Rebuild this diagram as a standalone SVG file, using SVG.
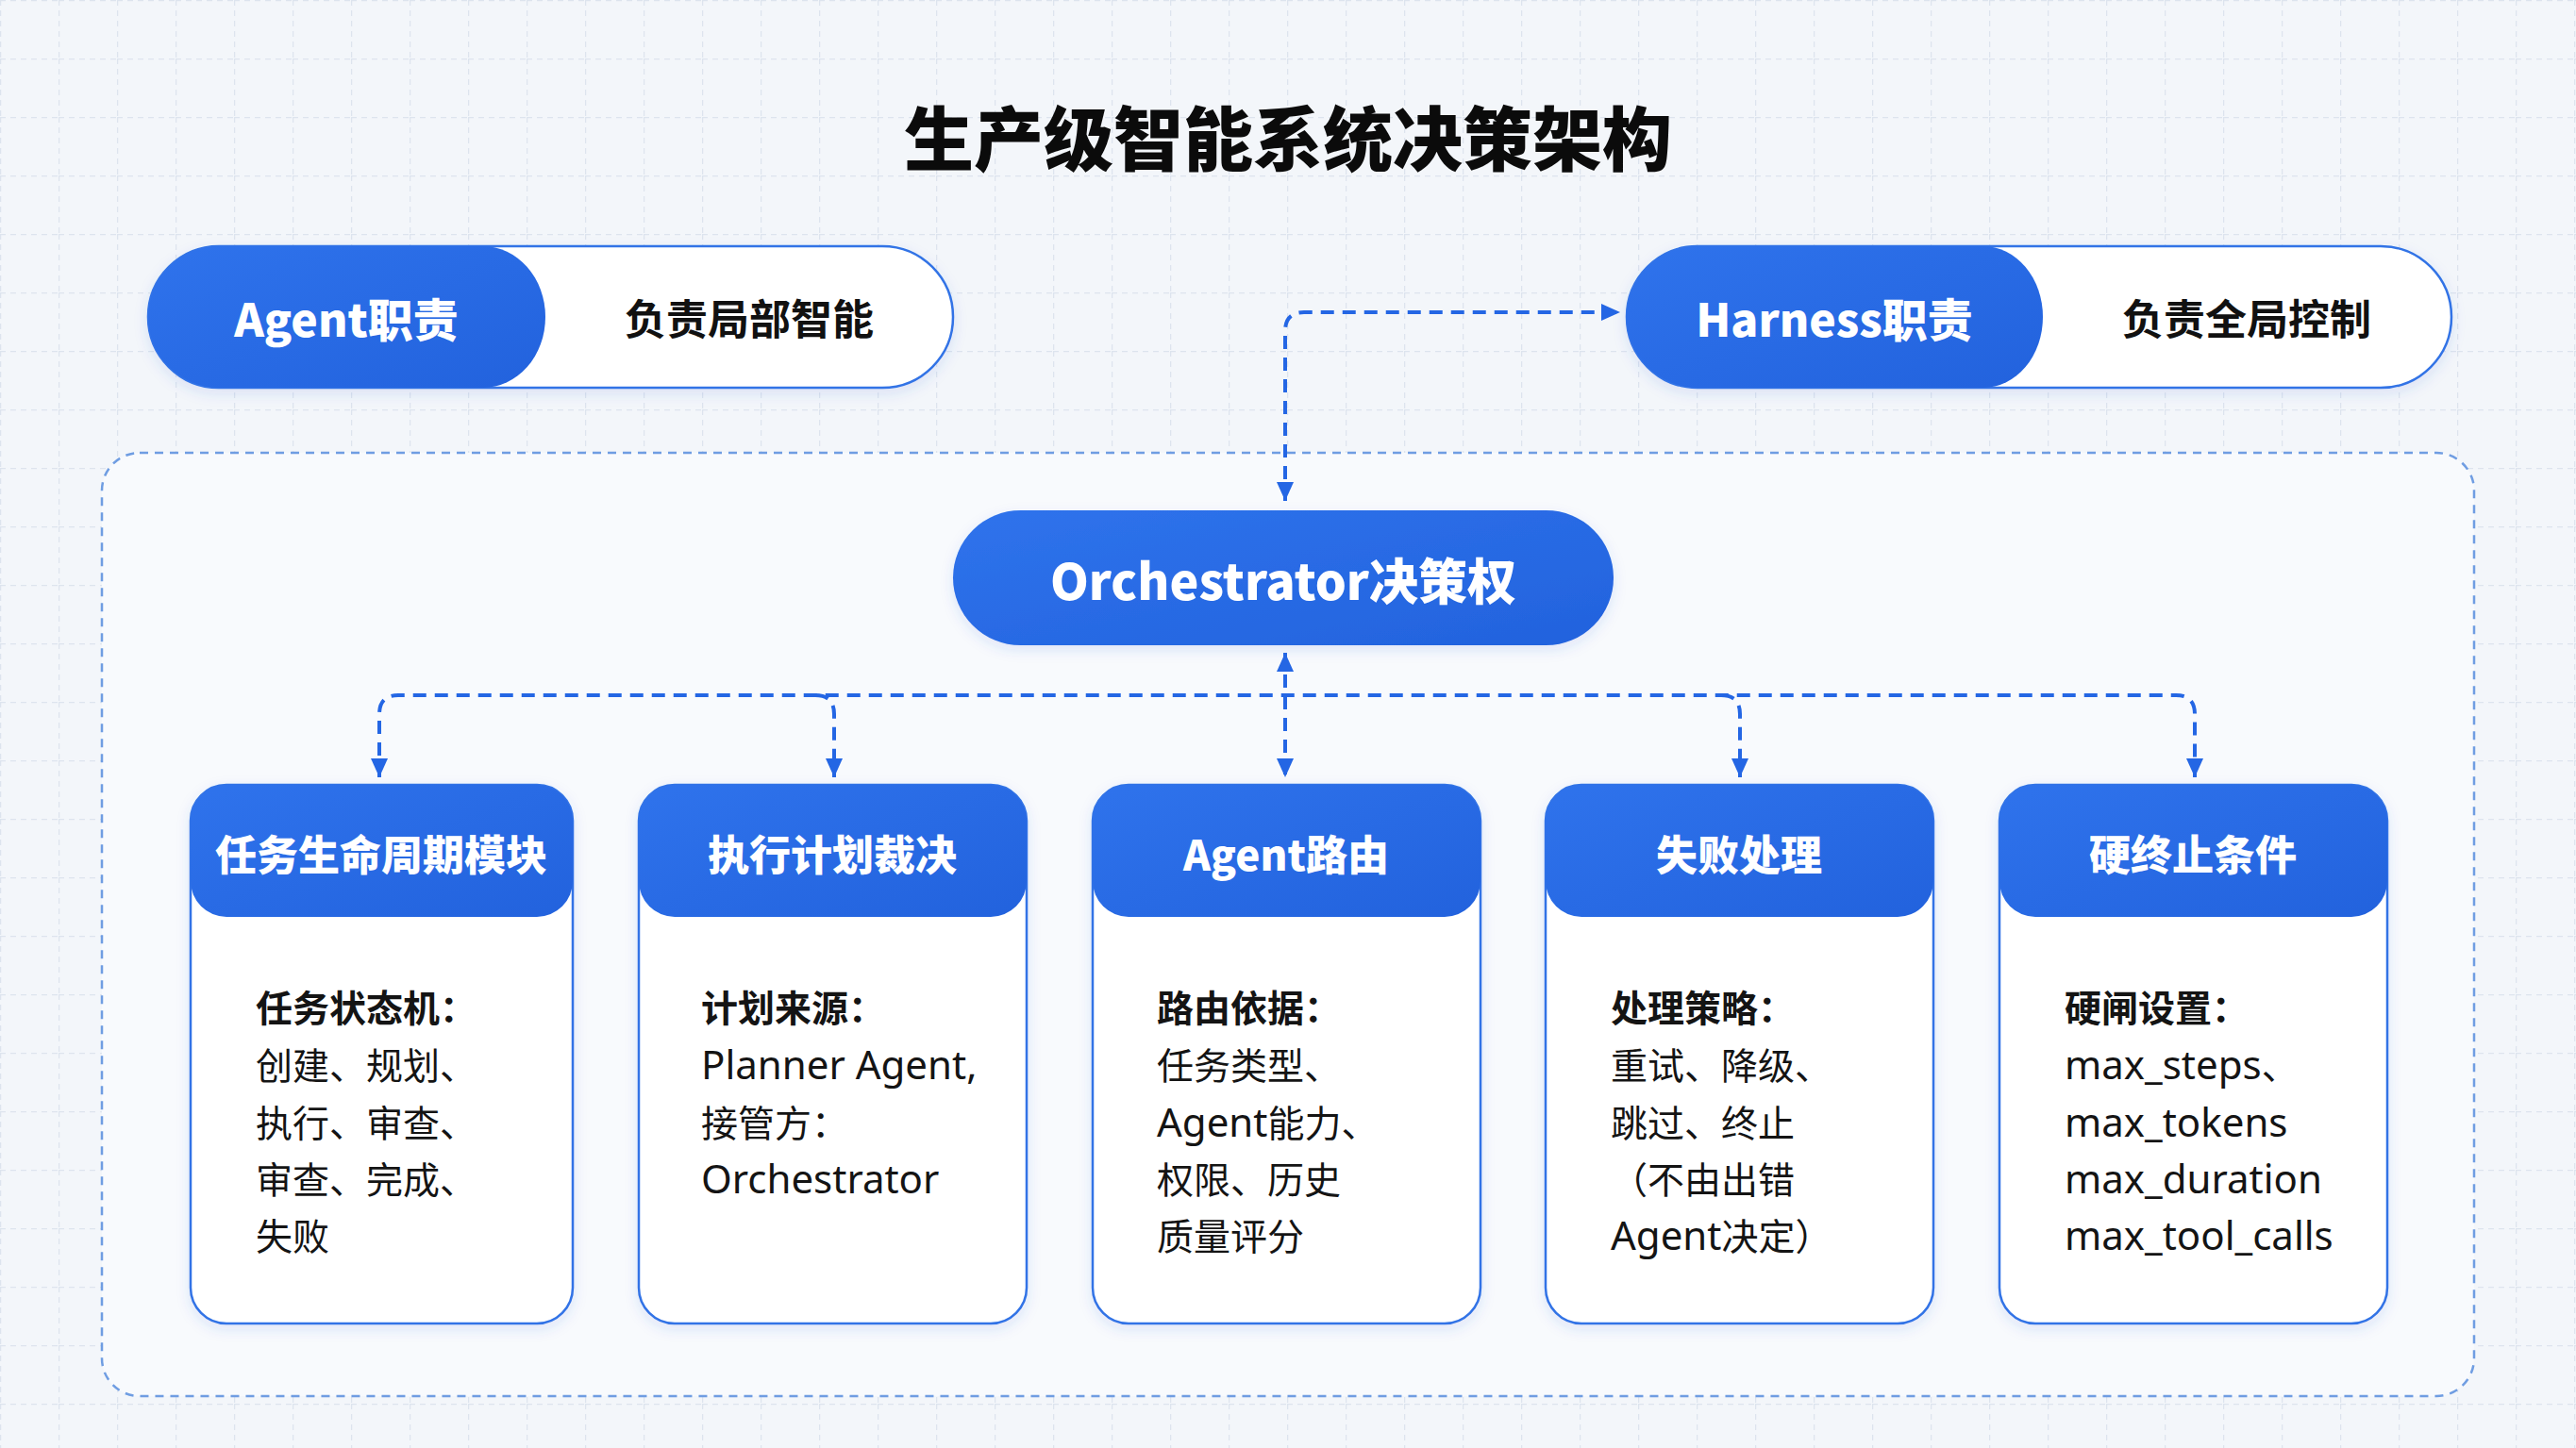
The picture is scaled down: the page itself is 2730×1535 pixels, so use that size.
<svg xmlns="http://www.w3.org/2000/svg" width="2730" height="1535" viewBox="0 0 2730 1535">
<defs>
<pattern id="grid" width="62" height="62" patternUnits="userSpaceOnUse">
<path d="M0 0.5H62M0.5 0V62" fill="none" stroke="#dde4ee" stroke-width="1.5" stroke-dasharray="6 5"/>
</pattern>
<linearGradient id="blue" x1="0" y1="0" x2="1" y2="1">
<stop offset="0" stop-color="#2f73ec"/>
<stop offset="1" stop-color="#2262dd"/>
</linearGradient>
<filter id="sh" x="-10%" y="-10%" width="120%" height="130%">
<feDropShadow dx="0" dy="5" stdDeviation="7" flood-color="#2a5bd7" flood-opacity="0.13"/>
</filter>
<marker id="ah" viewBox="0 0 10 10" refX="10" refY="5" markerWidth="20" markerHeight="20" markerUnits="userSpaceOnUse" orient="auto-start-reverse">
<path d="M0 0.5L10 5L0 9.5Z" fill="#2466e4"/>
</marker>
<style>
.cjk{font-family:'Noto Sans CJK SC','Noto Sans',sans-serif;}
.lat{font-family:'Noto Sans','Noto Sans CJK SC',sans-serif;font-size:42px;}
.title{font-size:74px;font-weight:900;fill:#0b0b0b;}
.pillT{font-size:48px;font-weight:900;fill:#ffffff;}
.pillD{font-size:44px;font-weight:700;fill:#111111;}
.hdr{font-size:44px;font-weight:900;fill:#ffffff;}
.body{font-size:39px;fill:#141414;}
.bold{font-weight:700;}
.conn{fill:none;stroke:#2466e4;stroke-width:4;stroke-dasharray:14 9;}
.card{fill:#ffffff;stroke:#3173e6;stroke-width:2.5;}
.pill{fill:#ffffff;stroke:#3173e6;stroke-width:2.5;}
</style>
</defs>
<rect width="2730" height="1535" fill="#f3f6fa"/>
<rect width="2730" height="1535" fill="url(#grid)"/>
<rect x="108" y="480" width="2514" height="1000" rx="40" fill="#f8fafd" stroke="#6f9de2" stroke-width="2.5" stroke-dasharray="9 7"/>

<text class="cjk title" x="1365" y="175" text-anchor="middle">生产级智能系统决策架构</text>

<g id="agent-duty">
<rect class="pill" x="157" y="261" width="853" height="150" rx="75" filter="url(#sh)"/>
<path d="M232 261H512A66 75 0 0 1 512 411H232A75 75 0 0 1 232 261Z" fill="url(#blue)"/>
<text class="cjk pillT" x="367" y="336" text-anchor="middle" dominant-baseline="central">Agent职责</text>
<text class="cjk pillD" x="794" y="336" text-anchor="middle" dominant-baseline="central">负责局部智能</text>
</g>

<g id="harness-duty">
<rect class="pill" x="1724" y="261" width="874" height="150" rx="75" filter="url(#sh)"/>
<path d="M1799 261H2102A63 75 0 0 1 2102 411H1799A75 75 0 0 1 1799 261Z" fill="url(#blue)"/>
<text class="cjk pillT" x="1944" y="336" text-anchor="middle" dominant-baseline="central">Harness职责</text>
<text class="cjk pillD" x="2381" y="336" text-anchor="middle" dominant-baseline="central">负责全局控制</text>
</g>

<g id="orchestrator">
<rect x="1010" y="541" width="700" height="143" rx="71.5" fill="url(#blue)" filter="url(#sh)"/>
<text class="cjk pillT" x="1360" y="613" text-anchor="middle" dominant-baseline="central" style="font-size:52px">Orchestrator决策权</text>
</g>

<g id="connectors">
<path class="conn" d="M1362 531V351Q1362 331 1382 331H1717" marker-start="url(#ah)" marker-end="url(#ah)"/>
<path class="conn" d="M1362 692V824" marker-start="url(#ah)" marker-end="url(#ah)"/>
<path class="conn" d="M402 824V757Q402 737 422 737H2306Q2326 737 2326 757V824" marker-start="url(#ah)" marker-end="url(#ah)"/>
<path class="conn" d="M864 737Q884 737 884 757V824" marker-end="url(#ah)"/>
<path class="conn" d="M1824 737Q1844 737 1844 757V824" marker-end="url(#ah)"/>
</g>

<g id="card-lifecycle">
<rect class="card" x="202" y="832" width="405" height="571" rx="38" filter="url(#sh)"/>
<rect x="202" y="832" width="405" height="140" rx="38" fill="url(#blue)"/>
<text class="cjk hdr" x="404" y="904" text-anchor="middle" dominant-baseline="central">任务生命周期模块</text>
<text class="cjk body" x="271"><tspan class="bold" x="271" y="1083">任务状态机：</tspan><tspan x="271" y="1144">创建、规划、</tspan><tspan x="271" y="1205">执行、审查、</tspan><tspan x="271" y="1265">审查、完成、</tspan><tspan x="271" y="1325">失败</tspan></text>
</g>

<g id="card-plan">
<rect class="card" x="677" y="832" width="411" height="571" rx="38" filter="url(#sh)"/>
<rect x="677" y="832" width="411" height="140" rx="38" fill="url(#blue)"/>
<text class="cjk hdr" x="882" y="904" text-anchor="middle" dominant-baseline="central">执行计划裁决</text>
<text class="cjk body" x="743"><tspan class="bold" x="743" y="1083">计划来源：</tspan><tspan class="lat" x="743" y="1144">Planner Agent,</tspan><tspan x="743" y="1205">接管方：</tspan><tspan class="lat" x="743" y="1265">Orchestrator</tspan></text>
</g>

<g id="card-routing">
<rect class="card" x="1158" y="832" width="411" height="571" rx="38" filter="url(#sh)"/>
<rect x="1158" y="832" width="411" height="140" rx="38" fill="url(#blue)"/>
<text class="cjk hdr" x="1363" y="904" text-anchor="middle" dominant-baseline="central">Agent路由</text>
<text class="cjk body" x="1226"><tspan class="bold" x="1226" y="1083">路由依据：</tspan><tspan x="1226" y="1144">任务类型、</tspan><tspan x="1226" y="1205"><tspan class="lat">Agent</tspan>能力、</tspan><tspan x="1226" y="1265">权限、历史</tspan><tspan x="1226" y="1325">质量评分</tspan></text>
</g>

<g id="card-failure">
<rect class="card" x="1638" y="832" width="411" height="571" rx="38" filter="url(#sh)"/>
<rect x="1638" y="832" width="411" height="140" rx="38" fill="url(#blue)"/>
<text class="cjk hdr" x="1843" y="904" text-anchor="middle" dominant-baseline="central">失败处理</text>
<text class="cjk body" x="1707"><tspan class="bold" x="1707" y="1083">处理策略：</tspan><tspan x="1707" y="1144">重试、降级、</tspan><tspan x="1707" y="1205">跳过、终止</tspan><tspan x="1707" y="1265">（不由出错</tspan><tspan x="1707" y="1325"><tspan class="lat">Agent</tspan>决定）</tspan></text>
</g>

<g id="card-stop">
<rect class="card" x="2119" y="832" width="411" height="571" rx="38" filter="url(#sh)"/>
<rect x="2119" y="832" width="411" height="140" rx="38" fill="url(#blue)"/>
<text class="cjk hdr" x="2324" y="904" text-anchor="middle" dominant-baseline="central">硬终止条件</text>
<text class="cjk body" x="2188"><tspan class="bold" x="2188" y="1083">硬闸设置：</tspan><tspan x="2188" y="1144"><tspan class="lat">max_steps</tspan>、</tspan><tspan class="lat" x="2188" y="1205">max_tokens</tspan><tspan class="lat" x="2188" y="1265">max_duration</tspan><tspan class="lat" x="2188" y="1325">max_tool_calls</tspan></text>
</g>
</svg>
